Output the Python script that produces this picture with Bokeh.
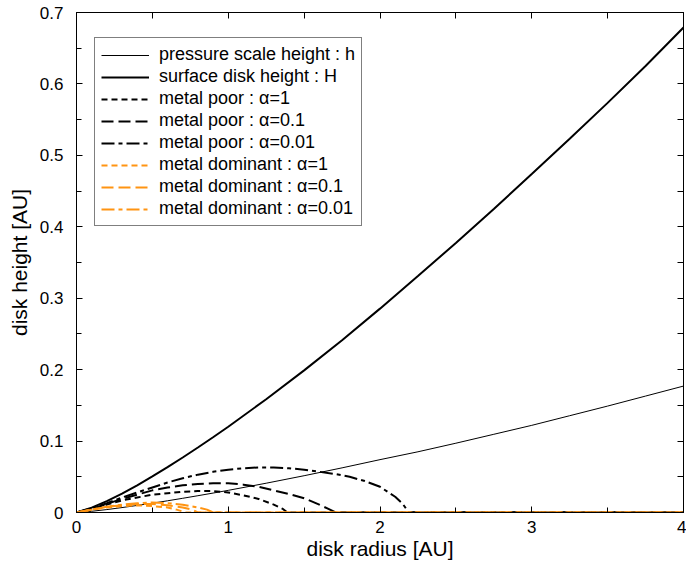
from bokeh.plotting import figure
from bokeh.models import (FixedTicker, LinearAxis, Legend, LegendItem, Range1d)
from bokeh.embed import file_html
from bokeh.resources import INLINE

# ---- data ----
r_grid = [0, 0.1, 0.2, 0.3, 0.4, 0.5, 0.6, 0.7, 0.8, 0.9, 1.0, 1.25, 1.5, 1.75,
          2.0, 2.25, 2.5, 2.75, 3.0, 3.25, 3.5, 3.75, 4.0]
h_scale = [0, 0.0017, 0.0041, 0.0069, 0.0099, 0.013, 0.0164, 0.0199, 0.0235,
           0.0272, 0.031, 0.041, 0.0515, 0.0625, 0.074, 0.085, 0.097, 0.1095, 0.122,
           0.1355, 0.149, 0.163, 0.177]
H_surface = [0, 0.0068, 0.016, 0.0265, 0.0381, 0.0505, 0.0635, 0.077, 0.091,
             0.1054, 0.12, 0.1586, 0.199, 0.2412, 0.2854, 0.331, 0.3774, 0.425,
             0.4738, 0.5233, 0.5735, 0.625, 0.679]

mp1_x = [0, 0.1, 0.2, 0.3, 0.4, 0.5, 0.6, 0.7, 0.8, 0.9, 1.0, 1.1, 1.2, 1.3, 1.36, 1.39, 4.0]
mp1_y = [0, 0.005, 0.011, 0.017, 0.021, 0.025, 0.027, 0.029, 0.030, 0.030, 0.028,
         0.024, 0.019, 0.011, 0.005, 0, 0]
mp01_x = [0, 0.1, 0.2, 0.3, 0.4, 0.5, 0.6, 0.7, 0.8, 0.9, 1.0, 1.1, 1.2, 1.3, 1.4,
          1.5, 1.6, 1.66, 1.71, 4.0]
mp01_y = [0, 0.005, 0.012, 0.019, 0.025, 0.031, 0.035, 0.038, 0.040, 0.041, 0.041,
          0.039, 0.036, 0.031, 0.026, 0.020, 0.011, 0.005, 0, 0]
mp001_x = [0, 0.1, 0.2, 0.3, 0.4, 0.5, 0.6, 0.7, 0.8, 0.9, 1.0, 1.1, 1.2, 1.3, 1.4,
           1.5, 1.6, 1.7, 1.8, 1.9, 2.0, 2.1, 2.15, 2.19, 4.0]
mp001_y = [0, 0.006, 0.013, 0.021, 0.028, 0.035, 0.042, 0.048, 0.053, 0.057, 0.060,
           0.062, 0.063, 0.063, 0.062, 0.060, 0.057, 0.054, 0.050, 0.044, 0.036,
           0.022, 0.012, 0, 0]

md1_x = [0, 0.1, 0.2, 0.3, 0.4, 0.5, 0.6, 0.66, 0.72, 4.0]
md1_y = [0, 0.004, 0.007, 0.009, 0.010, 0.009, 0.007, 0.004, 0, 0]
md01_x = [0, 0.1, 0.2, 0.3, 0.4, 0.5, 0.6, 0.7, 0.76, 0.80, 4.0]
md01_y = [0, 0.004, 0.008, 0.010, 0.012, 0.012, 0.010, 0.007, 0.004, 0, 0]
md001_x = [0, 0.1, 0.2, 0.3, 0.4, 0.5, 0.6, 0.7, 0.8, 0.86, 0.90, 4.0]
md001_y = [0, 0.004, 0.008, 0.011, 0.013, 0.014, 0.013, 0.011, 0.007, 0.004, 0, 0]

x_ticks = [0, 1, 2, 3, 4]
x_minor = [0.5, 1.5, 2.5, 3.5]
y_ticks = [0, 0.1, 0.2, 0.3, 0.4, 0.5, 0.6, 0.7]
y_minor = [0.05, 0.15, 0.25, 0.35, 0.45, 0.55, 0.65]

labels = ["pressure scale height : h", "surface disk height : H",
          "metal poor : \u03b1=1", "metal poor : \u03b1=0.1", "metal poor : \u03b1=0.01",
          "metal dominant : \u03b1=1", "metal dominant : \u03b1=0.1",
          "metal dominant : \u03b1=0.01"]

FONT = "Liberation Sans"
ORANGE = "#ff9412"

p = figure(width=686, height=565, output_backend="svg", toolbar_location=None,
           x_range=Range1d(0, 4), y_range=Range1d(0, 0.7),
           min_border_left=76, min_border_right=3, min_border_top=12,
           min_border_bottom=53)
p.grid.visible = False
p.outline_line_color = "black"
p.outline_line_width = 1
p.background_fill_color = "white"
p.border_fill_color = "white"

r_h = p.line(r_grid, h_scale, line_color="black", line_width=1)
r_H = p.line(r_grid, H_surface, line_color="black", line_width=2)
r_mp1 = p.line(mp1_x, mp1_y, line_color="black", line_width=2, line_dash="6 4")
r_mp01 = p.line(mp01_x, mp01_y, line_color="black", line_width=2, line_dash="12 5")
r_mp001 = p.line(mp001_x, mp001_y, line_color="black", line_width=2, line_dash="13 4 4 4")
r_md1 = p.line(md1_x, md1_y, line_color=ORANGE, line_width=2, line_dash="6 4")
r_md01 = p.line(md01_x, md01_y, line_color=ORANGE, line_width=2, line_dash="12 5")
r_md001 = p.line(md001_x, md001_y, line_color=ORANGE, line_width=2, line_dash="13 4 4 4")

def style_ticks(ax):
    ax.major_tick_in = 6
    ax.major_tick_out = 0
    ax.minor_tick_in = 5
    ax.minor_tick_out = 0
    ax.axis_line_color = "black"
    ax.major_tick_line_color = "black"
    ax.minor_tick_line_color = "black"

def style_labels(ax):
    ax.major_label_text_font = FONT
    ax.major_label_text_font_size = "17px"
    ax.major_label_text_color = "black"
    ax.axis_label_text_font = FONT
    ax.axis_label_text_font_size = "21px"
    ax.axis_label_text_font_style = "normal"
    ax.axis_label_text_color = "black"

xax = p.xaxis[0]
xax.ticker = FixedTicker(ticks=x_ticks, minor_ticks=x_minor)
xax.axis_label = "disk radius [AU]"
style_ticks(xax)
style_labels(xax)
xax.major_label_standoff = 8
xax.axis_label_standoff = 1

yax = p.yaxis[0]
yax.ticker = FixedTicker(ticks=y_ticks, minor_ticks=y_minor)
yax.axis_label = "disk height [AU]"
yax.major_label_overrides = {0: "0"}
style_ticks(yax)
style_labels(yax)
yax.major_label_standoff = 13
yax.axis_label_standoff = 6

# mirrored tick marks on the top and right edges (no labels: all as minor ticks)
top = LinearAxis(ticker=FixedTicker(ticks=[], minor_ticks=sorted(x_ticks + x_minor)))
style_ticks(top)
top.minor_tick_in = 6
top.major_label_standoff = 0
p.add_layout(top, "above")
right = LinearAxis(ticker=FixedTicker(ticks=[], minor_ticks=sorted(y_ticks + y_minor)))
style_ticks(right)
right.minor_tick_in = 6
right.major_label_standoff = 0
p.add_layout(right, "right")

renderers = [r_h, r_H, r_mp1, r_mp01, r_mp001, r_md1, r_md01, r_md001]
items = [LegendItem(label=l, renderers=[r]) for l, r in zip(labels, renderers)]
legend = Legend(items=items, location=(18, 286), margin=0,
                padding=6, spacing=1, glyph_width=48, glyph_height=18,
                label_height=18, label_standoff=10,
                label_text_font=FONT, label_text_font_size="18px",
                label_text_color="black",
                border_line_color="black", border_line_width=1,
                background_fill_color="white", background_fill_alpha=1)
p.add_layout(legend, "center")

open("out.html", "w").write(file_html(p, INLINE))
